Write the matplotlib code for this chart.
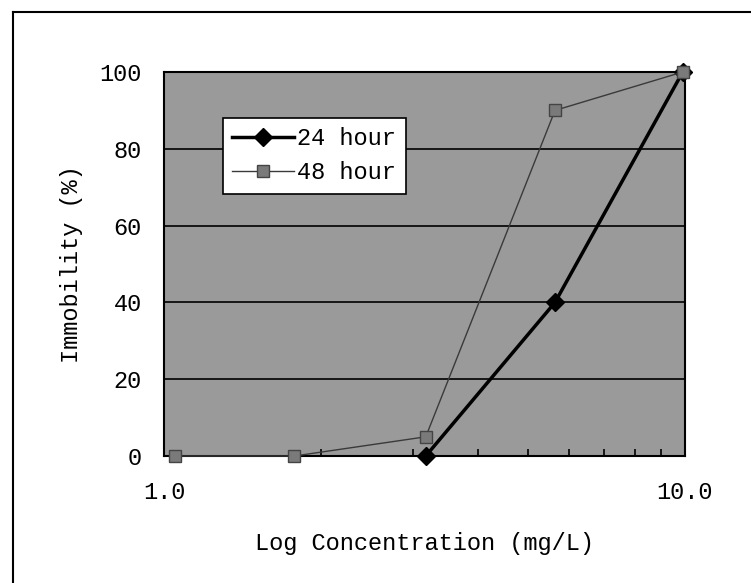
import matplotlib
matplotlib.use('Agg')
import matplotlib.pyplot as plt
from matplotlib.lines import Line2D
from matplotlib.ticker import LogLocator, NullFormatter
import numpy as np

# Data
conc = [1.05, 1.78, 3.18, 5.63, 9.9]
hour24 = [np.nan, np.nan, 0, 40, 100]
hour48 = [0, 0, 5, 90, 100]
yticks = [0, 20, 40, 60, 80, 100]
xticks = [1, 10]
xticklabels = ['1.0', '10.0']

plt.rcParams['font.family'] = ['Liberation Mono', 'DejaVu Sans Mono']
fs = 17

fig = plt.figure(figsize=(7.51, 5.83), dpi=100)
fig.patch.set_facecolor('white')

# outer frame of the scanned figure (left and top edges only)
fig.add_artist(Line2D([13/751, 13/751], [0, 1 - 12/583], color='black', lw=1.5))
fig.add_artist(Line2D([13/751, 1], [1 - 12/583, 1 - 12/583], color='black', lw=1.5))

ax = fig.add_axes([164/751, 1 - 456/583, 521/751, 384/583])
ax.set_facecolor('#9a9a9a')
ax.set_xscale('log')
ax.set_xlim(1, 10)
ax.set_ylim(0, 100)

for y in yticks[1:-1]:
    ax.axhline(y, color='black', lw=1.2, zorder=1)

ax.plot(conc, hour24, color='black', lw=2.5, marker='D', markersize=9,
        label='24 hour', zorder=3, clip_on=False)
ax.plot(conc, hour48, color='#3a3a3a', lw=1.0, marker='s', markersize=8,
        markerfacecolor='#7a7a7a', markeredgecolor='#444444',
        label='48 hour', zorder=4, clip_on=False)

ax.set_yticks(yticks)
ax.set_yticklabels([str(v) for v in yticks], fontsize=fs)
ax.tick_params(axis='y', length=0, pad=16)

ax.set_xticks(xticks)
ax.set_xticklabels(xticklabels, fontsize=fs)
ax.xaxis.set_minor_locator(LogLocator(base=10, subs=np.arange(2, 10)))
ax.xaxis.set_minor_formatter(NullFormatter())
ax.tick_params(axis='x', which='major', length=0, pad=18)
ax.tick_params(axis='x', which='minor', direction='in', length=5, width=1.2, color='black')

for s in ax.spines.values():
    s.set_linewidth(1.5)
    s.set_color('black')

ax.set_xlabel('Log Concentration (mg/L)', fontsize=fs, labelpad=20)
ax.set_ylabel('Immobility (%)', fontsize=fs, labelpad=12)

leg = ax.legend(loc='upper left', bbox_to_anchor=(59/521, 1 - 46/384),
                fontsize=fs, frameon=True, fancybox=False, framealpha=1,
                edgecolor='black', handlelength=2.6, handletextpad=0.15,
                borderpad=0.4, labelspacing=0.45, borderaxespad=0)
leg.get_frame().set_linewidth(1.2)

fig.savefig('out.png', dpi=100)
